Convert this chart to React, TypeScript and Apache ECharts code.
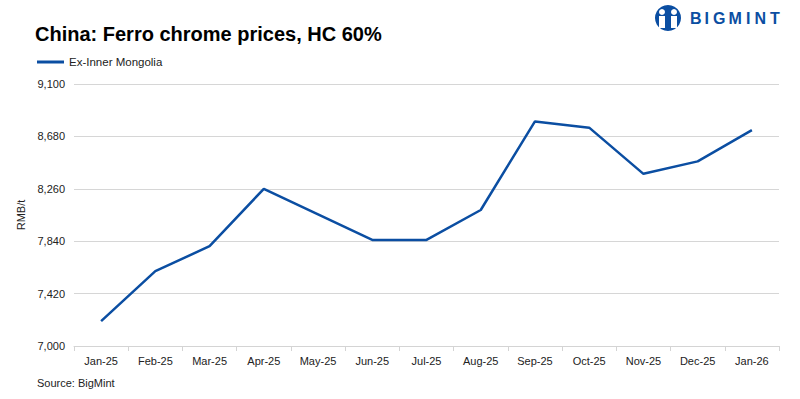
import React, { useEffect, useRef } from "react";
import * as echarts from "echarts";

const categories = ["Jan-25", "Feb-25", "Mar-25", "Apr-25", "May-25", "Jun-25", "Jul-25", "Aug-25", "Sep-25", "Oct-25", "Nov-25", "Dec-25", "Jan-26"];
const exInnerMongolia = [7200, 7600, 7800, 8260, 8055, 7850, 7850, 8090, 8800, 8750, 8380, 8480, 8730];
const seriesName = "Ex-Inner Mongolia";
const titleText = "China: Ferro chrome prices, HC 60%";
const yAxisName = "RMB/t";
const sourceText = "Source: BigMint";
const logoLetters = ["B", "I", "G", "M", "I", "N", "T"];

const BLUE = "#0b4ea2";
const FONT = "'Liberation Sans', Arial, sans-serif";

export default function App() {
  const ref = useRef<HTMLDivElement>(null);
  useEffect(() => {
    if (!ref.current) return;
    const chart = echarts.init(ref.current, null, { renderer: "svg" });
    let lx = 690;
    const letterWidths: Record<string, number> = { B: 13, I: 7, G: 14, M: 16, N: 14, T: 12 };
    const logoTexts = logoLetters.map((ch) => {
      const el = {
        type: "text",
        left: lx,
        top: 10,
        style: { text: ch, fill: BLUE, font: `bold 16px ${FONT}` },
      };
      lx += letterWidths[ch] + 1.5;
      return el;
    });
    chart.setOption({
      animation: false,
      backgroundColor: "#ffffff",
      textStyle: { fontFamily: FONT },
      title: {
        text: titleText,
        left: 30,
        top: 19,
        textStyle: { fontSize: 20, fontWeight: "bold", color: "#000", fontFamily: FONT },
      },
      legend: {
        left: 32,
        top: 51,
        itemWidth: 27,
        itemHeight: 3,
        itemGap: 10,
        icon: "rect",
        textStyle: { fontSize: 11.5, color: "#222", fontFamily: FONT },
        data: [seriesName],
      },
      grid: { left: 74, right: 21, top: 84, bottom: 53, containLabel: false },
      xAxis: {
        type: "category",
        data: categories,
        boundaryGap: true,
        axisLine: { lineStyle: { color: "#d4d4d4", width: 1 } },
        axisTick: { show: true, length: 5, lineStyle: { color: "#d4d4d4" } },
        axisLabel: { color: "#222", fontSize: 11, margin: 9, interval: 0 },
      },
      yAxis: {
        type: "value",
        min: 7000,
        max: 9100,
        interval: 420,
        name: yAxisName,
        nameLocation: "middle",
        nameRotate: 90,
        nameGap: 48,
        nameTextStyle: { color: "#222", fontSize: 11 },
        axisLabel: {
          color: "#222",
          fontSize: 11,
          margin: 9,
          formatter: (v: number) => v.toLocaleString("en-US"),
        },
        axisLine: { show: false },
        axisTick: { show: false },
        splitLine: { lineStyle: { color: "#d6d6d6", width: 1 } },
      },
      series: [
        {
          name: seriesName,
          type: "line",
          data: exInnerMongolia,
          symbol: "none",
          lineStyle: { color: BLUE, width: 2.5 },
          itemStyle: { color: BLUE },
        },
      ],
      graphic: [
        {
          type: "text",
          left: 37,
          top: 377,
          style: { text: sourceText, fill: "#222", font: `11px ${FONT}` },
        },
        {
          type: "circle",
          shape: { cx: 668, cy: 18, r: 13 },
          style: { fill: BLUE },
        },
        {
          type: "circle",
          shape: { cx: 662, cy: 12, r: 3 },
          style: { fill: "#fff" },
        },
        {
          type: "circle",
          shape: { cx: 674, cy: 12, r: 3 },
          style: { fill: "#fff" },
        },
        {
          type: "rect",
          shape: { x: 659, y: 16, width: 6, height: 12 },
          style: { fill: "#fff" },
        },
        {
          type: "rect",
          shape: { x: 671, y: 16, width: 6, height: 12 },
          style: { fill: "#fff" },
        },
        {
          type: "rect",
          shape: { x: 666, y: 20, width: 4, height: 8 },
          style: { fill: BLUE },
        },
        ...logoTexts,
      ],
    });
    return () => chart.dispose();
  }, []);
  return <div ref={ref} style={{ width: 800, height: 399, position: "absolute", left: 0, top: 0 }} />;
}
